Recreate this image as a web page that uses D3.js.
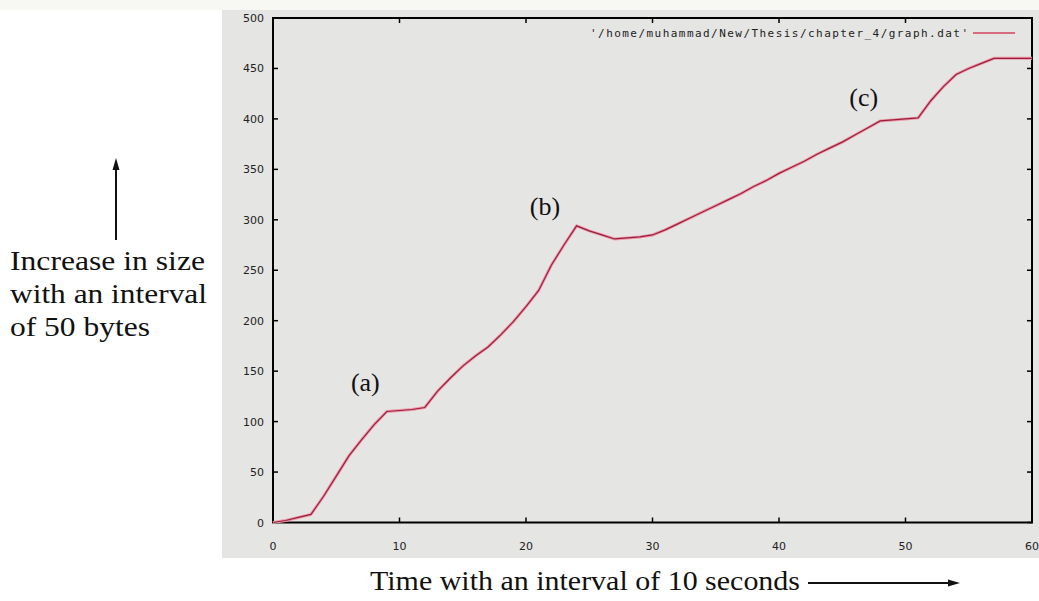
<!DOCTYPE html>
<html>
<head>
<meta charset="utf-8">
<script src="https://cdn.jsdelivr.net/npm/d3@7"></script>
<style>
  body { margin: 0; background: #fff; }
  svg { display: block; }
</style>
</head>
<body>
<svg id="chart"></svg>
<script>
const width = 1039;
const height = 601;

// time (seconds/10) and size values
const times = [0, 1, 2, 3, 4, 5, 6, 7, 8, 9, 10, 11, 12, 13, 14, 15, 16, 17, 18, 19, 20,
    21, 22, 23, 24, 25, 26, 27, 28, 29, 30, 31, 32, 33, 34, 35, 36, 37, 38, 39, 40,
    41, 42, 43, 44, 45, 46, 47, 48, 49, 50, 51, 52, 53, 54, 55, 56, 57, 58, 59, 60];
const sizes = [0, 2, 5, 8, 26, 46, 66, 82, 97, 110, 111, 112, 114, 130, 143, 155, 165, 174, 186, 199, 214,
    230, 255, 275, 294, 289, 285, 281, 282, 283, 285, 290, 296, 302, 308, 314, 320, 326, 333, 339, 346,
    352, 358, 365, 371, 377, 384, 391, 398, 399, 400, 401, 418, 432, 444, 450, 455, 460, 460, 460, 460];
const xTicks = [0, 10, 20, 30, 40, 50, 60];
const yTicks = [0, 50, 100, 150, 200, 250, 300, 350, 400, 450, 500];
const annotations = [["(a)", 7.3, 130], ["(b)", 21.5, 305], ["(c)", 46.7, 413]];
const legendLabel = "'/home/muhammad/New/Thesis/chapter_4/graph.dat'";
const yCaption = [["Increase in size", 195], ["with an interval", 197], ["of 50 bytes", 140]];
const xCaption = "Time with an interval of 10 seconds";

const svg = d3.select("#chart").attr("width", width).attr("height", height);

const x = d3.scaleLinear().domain([0, 60]).range([273, 1032]);
const y = d3.scaleLinear().domain([0, 500]).range([522.5, 18]);

// grey screenshot panel
svg.append("rect").attr("x", 0).attr("y", 0).attr("width", width).attr("height", 10)
    .attr("fill", "#f7f7f3");
svg.append("rect").attr("x", 222).attr("y", 10).attr("width", width - 222).attr("height", 548)
    .attr("fill", "#e5e5e3");

// ticks, mirrored on all four sides
const tickLen = 5;
const ticks = svg.append("g").attr("stroke", "#000").attr("stroke-width", 1.5);
xTicks.forEach(t => {
    ticks.append("line").attr("x1", x(t)).attr("x2", x(t)).attr("y1", y(0)).attr("y2", y(0) - tickLen);
    ticks.append("line").attr("x1", x(t)).attr("x2", x(t)).attr("y1", y(500)).attr("y2", y(500) + tickLen);
});
yTicks.forEach(v => {
    ticks.append("line").attr("x1", x(0)).attr("x2", x(0) + tickLen).attr("y1", y(v)).attr("y2", y(v));
    ticks.append("line").attr("x1", x(60)).attr("x2", x(60) - tickLen).attr("y1", y(v)).attr("y2", y(v));
});

svg.append("rect")
    .attr("x", x(0)).attr("y", y(500))
    .attr("width", x(60) - x(0)).attr("height", y(0) - y(500))
    .attr("fill", "none").attr("stroke", "#000").attr("stroke-width", 2);

// tick labels
svg.append("g").selectAll("text").data(yTicks).enter()
    .append("text")
    .attr("x", 264)
    .attr("y", d => y(d) + 4)
    .attr("text-anchor", "end")
    .attr("font-family", "DejaVu Sans, sans-serif")
    .attr("font-size", 11)
    .attr("fill", "#222")
    .text(d => d);

svg.append("g").selectAll("text").data(xTicks).enter()
    .append("text")
    .attr("x", d => x(d))
    .attr("y", 550)
    .attr("text-anchor", "middle")
    .attr("font-family", "DejaVu Sans, sans-serif")
    .attr("font-size", 11)
    .attr("fill", "#222")
    .text(d => d);

// data line
const pts = times.map((t, i) => [t, sizes[i]]);
const line = d3.line().x(d => x(d[0])).y(d => y(d[1]));

svg.append("path").datum(pts).attr("d", line)
    .attr("fill", "none").attr("stroke", "#ec98a8").attr("stroke-width", 3);
svg.append("path").datum(pts).attr("d", line)
    .attr("fill", "none").attr("stroke", "#9c1e3e").attr("stroke-width", 1.2);

// legend
svg.append("text")
    .attr("x", 968)
    .attr("y", 37)
    .attr("text-anchor", "end")
    .attr("font-family", "DejaVu Sans Mono, monospace")
    .attr("font-size", 11)
    .attr("textLength", 378)
    .attr("fill", "#222")
    .text(legendLabel);
svg.append("line")
    .attr("x1", 973).attr("x2", 1015).attr("y1", 33).attr("y2", 33)
    .attr("stroke", "#d0405e").attr("stroke-width", 1.5);

// annotations
svg.append("g").selectAll("text").data(annotations).enter()
    .append("text")
    .attr("x", d => x(d[1]))
    .attr("y", d => y(d[2]))
    .attr("text-anchor", "middle")
    .attr("font-family", "Liberation Serif, serif")
    .attr("font-size", 26)
    .attr("fill", "#111")
    .text(d => d[0]);

// y axis caption and arrow
svg.append("g").selectAll("text").data(yCaption).enter()
    .append("text")
    .attr("x", 10)
    .attr("y", (d, i) => 270 + i * 33)
    .attr("font-family", "Liberation Serif, serif")
    .attr("font-size", 28)
    .attr("textLength", d => d[1])
    .attr("lengthAdjust", "spacingAndGlyphs")
    .attr("fill", "#111")
    .text(d => d[0]);

svg.append("line")
    .attr("x1", 116).attr("x2", 116).attr("y1", 240).attr("y2", 168)
    .attr("stroke", "#111").attr("stroke-width", 2);
svg.append("path")
    .attr("d", "M116,158 L112.5,170 L119.5,170 Z").attr("fill", "#111");

// x axis caption and arrow
svg.append("text")
    .attr("x", 370)
    .attr("y", 590)
    .attr("font-family", "Liberation Serif, serif")
    .attr("font-size", 28)
    .attr("textLength", 430)
    .attr("lengthAdjust", "spacingAndGlyphs")
    .attr("fill", "#111")
    .text(xCaption);

svg.append("line")
    .attr("x1", 808).attr("x2", 950).attr("y1", 583).attr("y2", 583)
    .attr("stroke", "#111").attr("stroke-width", 2);
svg.append("path")
    .attr("d", "M960,583 L948,579.5 L948,586.5 Z").attr("fill", "#111");
</script>
</body>
</html>
